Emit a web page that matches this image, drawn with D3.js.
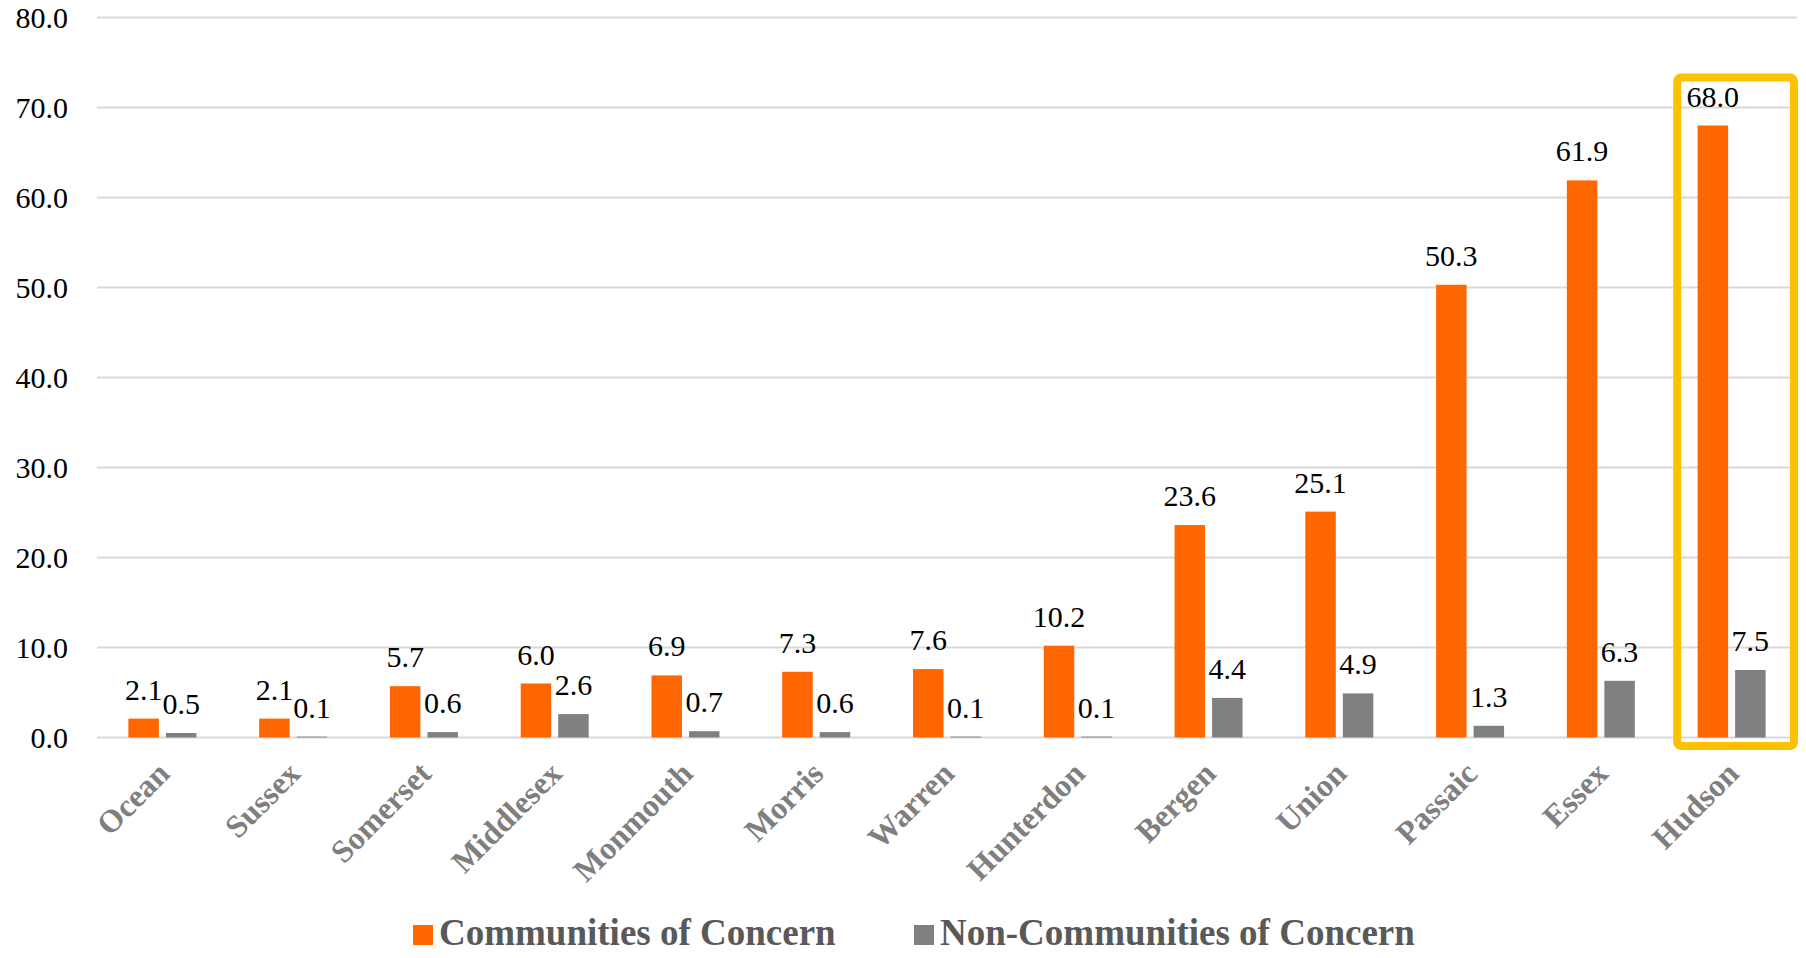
<!DOCTYPE html>
<html>
<head>
<meta charset="utf-8">
<script src="https://cdn.jsdelivr.net/npm/d3@7"></script>
<style>
  body { margin: 0; background: #fff; }
</style>
</head>
<body>
<div id="chart"></div>
<script>
// data
var counties = ["Ocean", "Sussex", "Somerset", "Middlesex", "Monmouth", "Morris", "Warren",
                "Hunterdon", "Bergen", "Union", "Passaic", "Essex", "Hudson"];
var concern    = [2.1, 2.1, 5.7, 6.0, 6.9, 7.3, 7.6, 10.2, 23.6, 25.1, 50.3, 61.9, 68.0];
var nonConcern = [0.5, 0.1, 0.6, 2.6, 0.7, 0.6, 0.1, 0.1, 4.4, 4.9, 1.3, 6.3, 7.5];
var seriesNames = ["Communities of Concern", "Non-Communities of Concern"];
var yTicks = [0, 10, 20, 30, 40, 50, 60, 70, 80];
var highlighted = "Hudson";

var colors = ["#ff6600", "#808080"];
var serif = "'Liberation Serif', 'Times New Roman', serif";

var width = 1806, height = 958;
var plot = {left: 97, right: 1797, top: 17.5, bottom: 737.5};

var svg = d3.select("#chart")
  .append("svg")
    .attr("width", width)
    .attr("height", height);

var rows = counties.map(function(c, i) {
  return {county: c, values: [concern[i], nonConcern[i]]};
});

// scales
var x0 = d3.scaleBand()
  .domain(counties)
  .range([plot.left, plot.right])
  .paddingInner(0)
  .paddingOuter(0);

var x1 = d3.scaleBand()
  .domain([0, 1])
  .range([0, x0.bandwidth()])
  .paddingInner(0.187)
  .paddingOuter(0.837);

var y = d3.scaleLinear()
  .domain([0, 80])
  .range([plot.bottom, plot.top]);

// gridlines
svg.append("g")
  .selectAll("line")
  .data(yTicks)
  .enter().append("line")
    .attr("x1", plot.left)
    .attr("x2", plot.right)
    .attr("y1", function(d) { return y(d); })
    .attr("y2", function(d) { return y(d); })
    .attr("stroke", "#d9d9d9")
    .attr("stroke-width", 2);

// y axis labels
var yAxis = svg.append("g")
  .attr("transform", "translate(" + (plot.left - 29) + ",0)")
  .call(d3.axisLeft(y).tickValues(yTicks).tickFormat(d3.format(".1f")).tickSize(0).tickPadding(0));
yAxis.select(".domain").remove();
yAxis.selectAll("text")
  .style("font-family", serif)
  .style("font-size", "30px")
  .attr("fill", "#000")
  .attr("dy", "0.33em");

// bars
var groups = svg.append("g")
  .selectAll("g")
  .data(rows)
  .enter().append("g")
    .attr("transform", function(d) { return "translate(" + x0(d.county) + ",0)"; });

groups.selectAll("rect")
  .data(function(d) { return d.values; })
  .enter().append("rect")
    .attr("x", function(d, i) { return x1(i); })
    .attr("y", function(d) { return y(d); })
    .attr("width", x1.bandwidth())
    .attr("height", function(d) { return y(0) - y(d); })
    .attr("fill", function(d, i) { return colors[i]; });

// data labels
groups.selectAll("text")
  .data(function(d) { return d.values; })
  .enter().append("text")
    .attr("x", function(d, i) { return x1(i) + x1.bandwidth() / 2; })
    .attr("y", function(d) { return y(d) - 19; })
    .attr("text-anchor", "middle")
    .style("font-family", serif)
    .style("font-size", "30px")
    .attr("fill", "#000")
    .text(function(d) { return d3.format(".1f")(d); });

// category labels, rotated
var xAxis = svg.append("g")
  .attr("transform", "translate(0," + plot.bottom + ")")
  .call(d3.axisBottom(x0).tickSize(0).tickPadding(0));
xAxis.select(".domain").remove();
xAxis.selectAll("text")
  .style("font-family", serif)
  .style("font-size", "32px")
  .style("font-weight", "bold")
  .attr("fill", "#7f7f7f")
  .attr("text-anchor", "end")
  .attr("dy", null)
  .attr("y", 0)
  .attr("transform", "translate(9,38) rotate(-45)");

// highlight box round Hudson
svg.append("rect")
  .attr("x", x0(highlighted) + 11)
  .attr("y", y(68.0) - 48)
  .attr("width", x0.bandwidth() - 14)
  .attr("height", y(0) + 8.5 - (y(68.0) - 48))
  .attr("rx", 4)
  .attr("fill", "none")
  .attr("stroke", "#ffc000")
  .attr("stroke-width", 8);

// legend
var legendX = [413, 914];
var legend = svg.append("g")
  .selectAll("g")
  .data(seriesNames)
  .enter().append("g")
    .attr("transform", function(d, i) { return "translate(" + legendX[i] + ",925)"; });

legend.append("rect")
  .attr("width", 20)
  .attr("height", 20)
  .attr("fill", function(d, i) { return colors[i]; });

legend.append("text")
  .attr("x", 26)
  .attr("y", 20)
  .style("font-family", serif)
  .style("font-size", "37px")
  .style("font-weight", "bold")
  .attr("fill", "#595959")
  .text(function(d) { return d; });
</script>
</body>
</html>
